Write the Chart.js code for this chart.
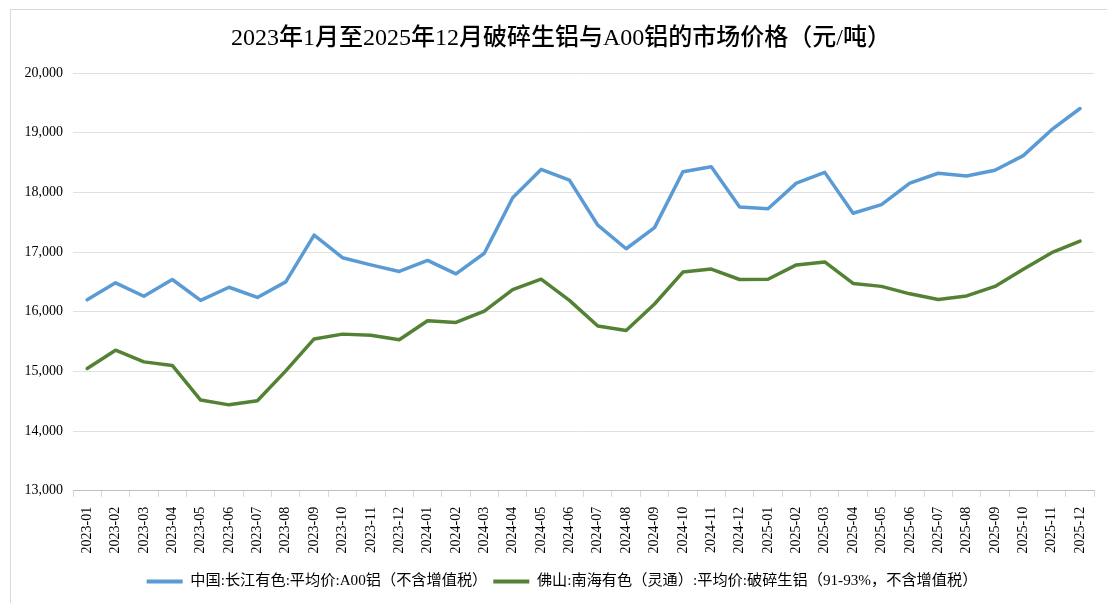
<!DOCTYPE html>
<html>
<head>
<meta charset="utf-8">
<script src="https://cdn.jsdelivr.net/npm/chart.js@4.4.1/dist/chart.umd.min.js"></script>
<style>
  html, body { margin: 0; padding: 0; background: #fff; }
  #wrap { position: relative; width: 1107px; height: 603px; }
  #frame { position: absolute; left: 10px; top: 9px; right: -5px; bottom: -5px;
           border-left: 1px solid #d9d9d9; border-top: 1px solid #d9d9d9; pointer-events: none; }
  canvas { position: absolute; left: 0; top: 0; }
</style>
</head>
<body>
<div id="wrap">
  <canvas id="c" width="1107" height="603"></canvas>
  <div id="frame"></div>
</div>
<script>
const categories = [
  "2023-01","2023-02","2023-03","2023-04","2023-05","2023-06","2023-07","2023-08","2023-09","2023-10","2023-11","2023-12",
  "2024-01","2024-02","2024-03","2024-04","2024-05","2024-06","2024-07","2024-08","2024-09","2024-10","2024-11","2024-12",
  "2025-01","2025-02","2025-03","2025-04","2025-05","2025-06","2025-07","2025-08","2025-09","2025-10","2025-11","2025-12"
];
const seriesA00Name = "中国:长江有色:平均价:A00铝（不含增值税）";
const seriesA00 = [
  16200,16485,16260,16540,16190,16410,16240,16500,17285,16905,16785,16675,
  16860,16635,16980,17910,18385,18205,17450,17055,17410,18345,18430,17755,
  17725,18155,18335,17650,17795,18155,18320,18275,18370,18615,19050,19405
];
const seriesScrapName = "佛山:南海有色（灵通）:平均价:破碎生铝（91-93%，不含增值税）";
const seriesScrap = [
  15050,15355,15160,15100,14520,14440,14510,15010,15545,15625,15605,15530,
  15850,15820,16010,16370,16545,16190,15760,15685,16130,16665,16715,16540,
  16545,16785,16835,16475,16425,16300,16205,16265,16425,16710,16990,17185
];
const yTicks = [13000,14000,15000,16000,17000,18000,19000,20000];
const titleText = "2023年1月至2025年12月破碎生铝与A00铝的市场价格（元/吨）";

const FONT = "'Liberation Serif', 'Noto Sans CJK SC', serif";

// shift the legend and title blocks slightly to the right, as in the reference
const boxShift = {
  id: 'boxShift',
  afterLayout(chart) {
    const lg = chart.legend;
    if (lg) { lg.left += 14; lg.right += 14; }
    const tt = chart.titleBlock;
    if (tt) { tt.left += 13; tt.right += 13; }
  }
};

new Chart(document.getElementById('c'), {
  type: 'line',
  data: {
    labels: categories,
    datasets: [
      { label: seriesA00Name, data: seriesA00, borderColor: '#5b9bd5', backgroundColor: '#5b9bd5',
        borderWidth: 3.5, pointRadius: 0, tension: 0, borderJoinStyle: 'round', borderCapStyle: 'round' },
      { label: seriesScrapName, data: seriesScrap, borderColor: '#548235', backgroundColor: '#548235',
        borderWidth: 3.5, pointRadius: 0, tension: 0, borderJoinStyle: 'round', borderCapStyle: 'round' }
    ]
  },
  plugins: [boxShift],
  options: {
    responsive: false,
    animation: false,
    devicePixelRatio: 1,
    layout: { padding: { left: 0, right: 11, top: 0, bottom: 4 } },
    plugins: {
      title: {
        display: true, text: titleText, color: '#000',
        font: { family: FONT, size: 24, weight: '500', lineHeight: 1.2 },
        padding: { top: 24, bottom: 20.2 }
      },
      legend: {
        position: 'bottom',
        labels: {
          color: '#000',
          font: { family: FONT, size: 15.2 },
          boxWidth: 36, boxHeight: 4, padding: 6,
          generateLabels(chart) {
            return chart.data.datasets.map((ds, i) => ({
              text: ds.label, fillStyle: ds.borderColor, strokeStyle: ds.borderColor,
              lineWidth: 0, hidden: false, datasetIndex: i, fontColor: '#000'
            }));
          }
        }
      },
      tooltip: { enabled: false }
    },
    scales: {
      x: {
        offset: true,
        grid: { display: true, drawOnChartArea: false, offset: true, color: '#d9d9d9', tickLength: 6 },
        border: { display: true, color: '#bfbfbf', width: 1 },
        ticks: { color: '#000', font: { family: FONT, size: 14 }, minRotation: 90, maxRotation: 90, autoSkip: false, padding: 10 },
        afterFit(scale) { scale.height = 77; }
      },
      y: {
        min: 13000, max: 20000,
        afterBuildTicks(scale) { scale.ticks = yTicks.map(v => ({ value: v })); },
        grid: { color: '#e0e0e0', lineWidth: 1, drawTicks: false },
        border: { display: false },
        ticks: {
          color: '#000', font: { family: FONT, size: 14 }, padding: 10,
          callback: v => v.toLocaleString('en-US')
        },
        afterFit(scale) { scale.width = 73; }
      }
    }
  }
});
</script>
</body>
</html>
